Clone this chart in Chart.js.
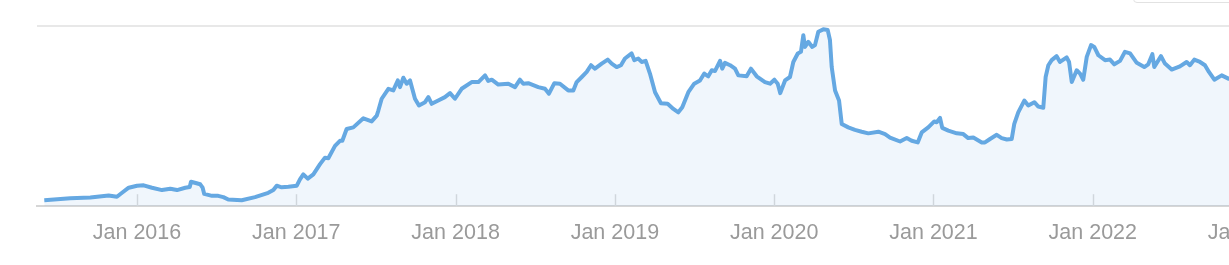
<!DOCTYPE html>
<html>
<head>
<meta charset="utf-8">
<script src="https://cdn.jsdelivr.net/npm/chart.js@4/dist/chart.umd.min.js"></script>
<style>
  html, body { margin: 0; padding: 0; background: #fff; overflow: hidden; width: 1229px; height: 265px; }
  #wrap { position: relative; width: 1340px; height: 265px; }
  #box { position: absolute; left: 1133px; top: -30px; width: 130px; height: 31px; border: 1px solid #e2e2e2; border-radius: 4px; background: #fff; }
</style>
</head>
<body>
<div id="wrap">
  <canvas id="c" width="1340" height="265"></canvas>
  <div id="box"></div>
</div>
<script>
// Time in decimal years, value on a 0-100 scale
const dates = [2015.418,2015.581,2015.707,2015.822,2015.874,2015.906,2015.948,2016.000,2016.042,2016.094,2016.157,2016.209,2016.251,2016.303,2016.331,2016.339,2016.397,2016.412,2016.422,2016.471,2016.510,2016.542,2016.573,2016.657,2016.741,2016.824,2016.856,2016.877,2016.908,2016.950,2017.003,2017.023,2017.044,2017.072,2017.107,2017.149,2017.180,2017.201,2017.243,2017.274,2017.289,2017.316,2017.358,2017.421,2017.473,2017.505,2017.515,2017.536,2017.578,2017.609,2017.637,2017.651,2017.672,2017.693,2017.714,2017.728,2017.745,2017.770,2017.808,2017.829,2017.850,2017.891,2017.933,2017.965,2017.996,2018.038,2018.101,2018.143,2018.185,2018.205,2018.227,2018.268,2018.331,2018.373,2018.404,2018.425,2018.456,2018.519,2018.561,2018.586,2018.620,2018.655,2018.707,2018.739,2018.760,2018.792,2018.823,2018.850,2018.875,2018.917,2018.955,2018.980,2019.011,2019.038,2019.063,2019.105,2019.122,2019.147,2019.168,2019.193,2019.220,2019.252,2019.289,2019.331,2019.367,2019.398,2019.423,2019.461,2019.498,2019.534,2019.561,2019.586,2019.608,2019.628,2019.660,2019.674,2019.691,2019.723,2019.754,2019.775,2019.827,2019.854,2019.890,2019.942,2019.974,2020.001,2020.022,2020.038,2020.068,2020.099,2020.120,2020.148,2020.168,2020.183,2020.193,2020.214,2020.239,2020.256,2020.277,2020.308,2020.336,2020.350,2020.361,2020.382,2020.407,2020.424,2020.465,2020.507,2020.549,2020.591,2020.654,2020.696,2020.727,2020.790,2020.832,2020.863,2020.901,2020.926,2020.967,2021.005,2021.020,2021.041,2021.055,2021.093,2021.146,2021.187,2021.218,2021.250,2021.303,2021.323,2021.355,2021.397,2021.428,2021.460,2021.491,2021.507,2021.532,2021.570,2021.595,2021.633,2021.658,2021.689,2021.704,2021.721,2021.742,2021.773,2021.794,2021.836,2021.851,2021.868,2021.899,2021.920,2021.940,2021.962,2021.989,2022.009,2022.035,2022.077,2022.108,2022.135,2022.171,2022.202,2022.234,2022.276,2022.323,2022.348,2022.374,2022.386,2022.428,2022.453,2022.495,2022.547,2022.589,2022.610,2022.637,2022.673,2022.704,2022.729,2022.763,2022.809,2022.851,2022.920];
const values = [3.3,4.4,4.8,5.9,5.2,7.4,10.2,11.3,11.5,10.2,8.9,9.6,8.9,10.2,10.6,13.5,12.1,10.2,6.8,5.7,5.7,5.0,3.7,3.3,5.0,7.4,8.9,11.3,10.4,10.7,11.3,14.8,17.6,15.2,17.6,23.2,26.8,26.5,33.3,36.1,36.1,42.6,43.5,48.5,46.8,50.0,52.8,59.3,64.8,63.9,69.4,65.7,70.9,67.6,69.4,64.8,59.3,55.6,57.4,60.2,56.5,58.3,60.2,62.4,59.3,64.8,68.5,68.5,72.2,69.1,69.8,67.1,67.6,65.7,69.8,67.6,67.9,65.7,64.8,62.1,67.9,67.6,63.9,63.9,68.5,71.3,74.1,77.8,75.9,78.7,80.9,78.7,76.8,77.8,81.5,84.3,80.6,81.5,79.6,80.2,73.2,62.9,56.8,56.5,53.7,51.8,54.6,62.9,67.6,69.4,73.2,71.7,75.0,74.6,80.2,75.9,79.1,77.8,75.9,72.2,71.7,75.9,71.7,68.5,67.6,69.8,67.6,62.4,69.4,71.3,79.6,84.3,85.2,94.4,87.9,90.7,87.9,88.9,96.3,97.6,97.2,91.7,76.8,63.9,58.3,45.4,43.5,42.1,41.1,40.2,41.1,39.8,37.9,35.7,37.6,36.1,35.2,40.7,43.5,46.8,46.3,48.7,43.2,41.7,40.2,39.8,37.6,37.9,35.2,35.2,37.1,39.4,37.6,36.8,37.1,45.4,51.8,58.3,55.6,57.4,55.0,54.3,71.3,77.8,80.6,82.8,79.6,82.1,79.6,68.5,75.0,73.2,69.8,82.4,88.9,87.9,83.3,80.6,80.9,78.3,80.2,85.2,84.3,79.1,76.8,78.3,83.9,76.8,82.8,78.7,75.4,77.2,79.6,77.8,80.9,79.6,77.8,74.1,69.8,72.2,70.4,71.0];
const tickYears = [2016, 2017, 2018, 2019, 2020, 2021, 2022, 2023];
const tickPrefix = 'Jan ';

const points = [];
for (let i = 0; i < Math.min(dates.length, values.length); i++) points.push({ x: dates[i], y: values[i] });

const framePlugin = {
  id: 'frame',
  beforeDatasetsDraw(chart) {
    const { ctx, chartArea } = chart;
    const xs = chart.scales.x;
    ctx.save();
    ctx.strokeStyle = '#e8e8e8';
    ctx.lineWidth = 2;
    ctx.beginPath();
    ctx.moveTo(chartArea.left, chartArea.top + 1);
    ctx.lineTo(chartArea.right, chartArea.top + 1);
    ctx.stroke();
    ctx.strokeStyle = '#dcdcdc';
    ctx.lineWidth = 1.5;
    tickYears.forEach(v => {
      const px = Math.round(xs.getPixelForValue(v)) + 0.5;
      ctx.beginPath();
      ctx.moveTo(px, chartArea.bottom - 12);
      ctx.lineTo(px, chartArea.bottom);
      ctx.stroke();
    });
    ctx.restore();
  }
};

new Chart(document.getElementById('c'), {
  type: 'line',
  data: {
    datasets: [{
      data: points,
      borderColor: '#65a8e2',
      backgroundColor: 'rgba(103,169,227,0.1)',
      borderWidth: 4,
      fill: 'origin',
      pointRadius: 0,
      tension: 0,
      borderJoinStyle: 'round'
    }]
  },
  options: {
    responsive: false,
    animation: false,
    layout: { padding: { left: 37, right: 20, top: 25, bottom: 5 } },
    plugins: { legend: { display: false }, tooltip: { enabled: false } },
    scales: {
      x: {
        type: 'linear',
        min: 2016 - 100 / 159.3,
        max: 2016 - 100 / 159.3 + 1283 / 159.3,
        afterBuildTicks: s => { s.ticks = tickYears.map(v => ({ value: v })); },
        grid: { display: true, drawOnChartArea: false, drawTicks: false },
        border: { display: true, color: '#d6d6d6', width: 2 },
        ticks: {
          padding: 14,
          color: '#9a9a9a',
          maxRotation: 0,
          autoSkip: false,
          font: { family: "'Liberation Sans', Arial, sans-serif", size: 21.5 },
          callback: v => tickPrefix + v
        }
      },
      y: {
        display: false,
        min: 0,
        max: 100
      }
    }
  },
  plugins: [framePlugin]
});
</script>
</body>
</html>
